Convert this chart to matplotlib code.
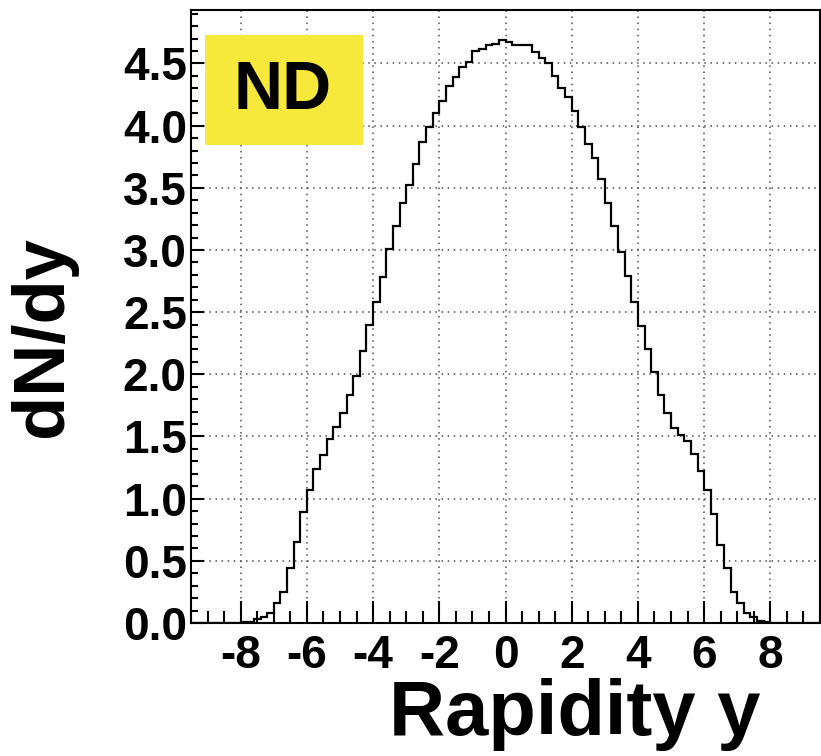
import numpy as np
import matplotlib
matplotlib.use('Agg')
import matplotlib.pyplot as plt
from matplotlib.patches import Rectangle
from matplotlib.ticker import MultipleLocator, FormatStrFormatter

plt.rcParams['font.family'] = ['Liberation Sans', 'DejaVu Sans']
plt.rcParams['font.weight'] = 'bold'
plt.rcParams['axes.unicode_minus'] = False

# histogram: 100 bins of width 0.2 from -10 to 10
bin_edges = np.linspace(-10, 10, 101)
left_tail = [0.0] * 10
neg_side = [0.01, 0.01, 0.03, 0.05, 0.08, 0.16, 0.25, 0.44, 0.65, 0.89,
            1.07, 1.24, 1.35, 1.48, 1.58, 1.69, 1.83, 1.99, 2.19, 2.40,
            2.58, 2.78, 3.01, 3.19, 3.38, 3.52, 3.69, 3.87, 3.99, 4.10,
            4.20, 4.32, 4.39, 4.47, 4.51, 4.60, 4.62, 4.65, 4.66, 4.69]
pos_side = [4.67, 4.65, 4.65, 4.65, 4.59, 4.54, 4.50, 4.40, 4.30, 4.23,
            4.12, 3.99, 3.85, 3.74, 3.57, 3.38, 3.19, 2.98, 2.79, 2.58,
            2.39, 2.20, 2.02, 1.83, 1.69, 1.57, 1.51, 1.46, 1.36, 1.22,
            1.07, 0.88, 0.63, 0.44, 0.25, 0.16, 0.08, 0.05, 0.02, 0.01]
right_tail = [0.0] * 10
dndy = np.array(left_tail + neg_side + pos_side + right_tail)

x_ticks = [-8, -6, -4, -2, 0, 2, 4, 6, 8]
x_range = (-9.5, 9.5)
y_range = (0, 4.93)
panel_label = 'ND'

fig = plt.figure(figsize=(8.21, 7.56), dpi=100)
ax = fig.add_axes([191 / 821, 133 / 756, 629 / 821, 613 / 756])

ax.stairs(dndy, bin_edges, color='black', linewidth=1.6, baseline=0)

ax.set_xlim(*x_range)
ax.set_ylim(*y_range)

ax.set_xticks(x_ticks)
ax.xaxis.set_minor_locator(MultipleLocator(0.5))
ax.yaxis.set_major_locator(MultipleLocator(0.5))
ax.yaxis.set_minor_locator(MultipleLocator(0.1))
ax.yaxis.set_major_formatter(FormatStrFormatter('%.1f'))

# ROOT-like inward ticks
ax.tick_params(axis='x', which='major', direction='in', length=16, width=1.5,
               labelsize=33, pad=8)
ax.tick_params(axis='x', which='minor', direction='in', length=8.5, width=1.5)
ax.tick_params(axis='y', which='major', direction='in', length=9.5, width=1.5,
               labelsize=33, pad=3)
ax.tick_params(axis='y', which='minor', direction='in', length=5, width=1.5)
for lbl in ax.get_xticklabels() + ax.get_yticklabels():
    lbl.set_fontweight('bold')

for sp in ax.spines.values():
    sp.set_linewidth(1.5)

ax.grid(True, which='major', color='0.3', linestyle=(0, (1, 3)), linewidth=1.1)
ax.set_axisbelow(True)

ax.set_ylabel('dN/dy', fontsize=52, fontweight='bold', va='top')
ax.yaxis.set_label_coords(-0.29, 0.467)
ax.set_xlabel('Rapidity y', fontsize=56, fontweight='bold', ha='right', va='baseline')
ax.xaxis.set_label_coords(0.905, -0.183)

# yellow label box
ax.add_patch(Rectangle((0.0223, 0.780), 0.2511, 0.179, transform=ax.transAxes,
                       facecolor='#f7e83c', edgecolor='none', zorder=3))
ax.text(0.146, 0.868, panel_label, transform=ax.transAxes, fontsize=49,
        fontweight='bold', ha='center', va='center', zorder=4)

fig.savefig('out.png', dpi=100)
